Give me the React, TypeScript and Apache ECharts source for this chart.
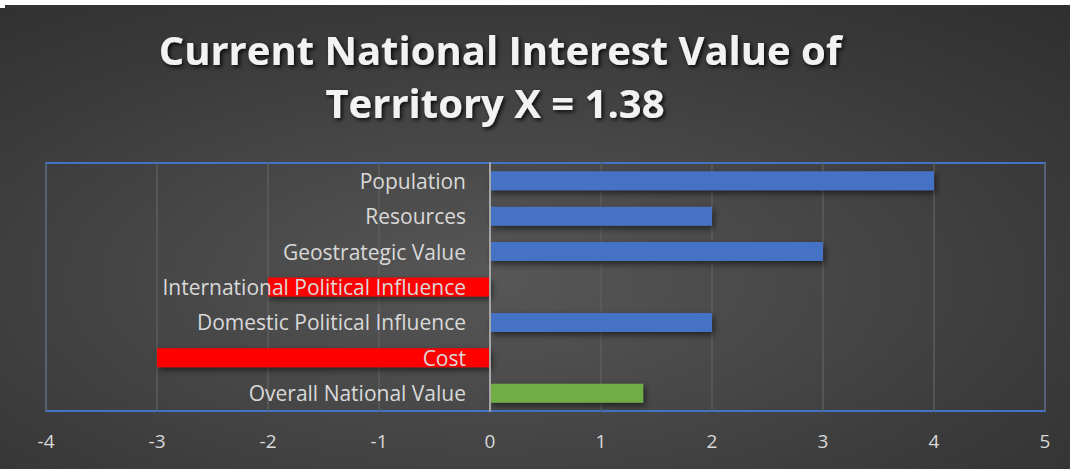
import React, { useEffect, useRef } from "react";
import * as echarts from "echarts";

const titleLines = ["Current National Interest Value of", "Territory X = 1.38"];
const categories = [
  "Population",
  "Resources",
  "Geostrategic Value",
  "International Political Influence",
  "Domestic Political Influence",
  "Cost",
  "Overall National Value",
];
const values = [4, 2, 3, -2, 2, -3, 1.38];
const overallCategory = "Overall National Value";
const xTicks = [-4, -3, -2, -1, 0, 1, 2, 3, 4, 5];

export default function App() {
  const ref = useRef<HTMLDivElement>(null);
  useEffect(() => {
    document.body.style.margin = "0";
    const chart = echarts.init(ref.current!, undefined, { renderer: "svg" });
    const titleStyle = {
      fill: "#f2f2f2",
      font: "bold 40px 'Open Sans'",
      textAlign: "center",
      textVerticalAlign: "middle",
      textShadowColor: "rgba(0,0,0,0.85)",
      textShadowBlur: 4,
      textShadowOffsetX: 2,
      textShadowOffsetY: 2,
    };
    chart.setOption({
      animation: false,
      backgroundColor: {
        type: "radial",
        x: 0.46,
        y: 0.6,
        r: 1.1,
        colorStops: [
          { offset: 0, color: "#575757" },
          { offset: 0.5, color: "#3a3a3a" },
          { offset: 1, color: "#222222" },
        ],
      },
      graphic: [
        { type: "rect", shape: { x: 0, y: 0, width: 1070, height: 5 }, style: { fill: "#ffffff" }, z: 100 },
        { type: "rect", shape: { x: 0, y: 0, width: 5, height: 8 }, style: { fill: "#ffffff" }, z: 100 },
        { type: "text", x: 500, y: 49, style: { ...titleStyle, text: titleLines[0] }, z: 100 },
        { type: "text", x: 495, y: 102, style: { ...titleStyle, text: titleLines[1] }, z: 100 },
      ],
      grid: {
        left: 46,
        right: 25,
        top: 163,
        bottom: 58,
        show: true,
        borderColor: "#4472C4",
        borderWidth: 2,
        backgroundColor: "transparent",
        containLabel: false,
        outerBoundsMode: "none",
      },
      xAxis: {
        type: "value",
        min: xTicks[0],
        max: xTicks[xTicks.length - 1],
        interval: 1,
        axisLine: { show: false },
        axisTick: { show: false },
        axisLabel: {
          color: "#d9d9d9",
          fontSize: 19,
          fontFamily: "'Open Sans'",
          margin: 20,
        },
        splitLine: { show: true, lineStyle: { color: "#5c5c5c", width: 1.5 } },
      },
      yAxis: {
        type: "category",
        data: categories,
        inverse: true,
        z: 5,
        axisLine: { show: true, onZero: true, lineStyle: { color: "#a6a6a6", width: 2 } },
        axisTick: { show: false },
        axisLabel: {
          color: "#d9d9d9",
          fontSize: 21,
          fontFamily: "'Open Sans'",
          margin: -420,
          align: "right",
        },
        splitLine: { show: false },
      },
      series: [
        {
          type: "bar",
          data: values,
          barWidth: 19,
          z: 2,
          itemStyle: {
            color: (p: any) =>
              categories[p.dataIndex] === overallCategory
                ? "#70AD47"
                : p.value < 0
                ? "#FF0000"
                : "#4472C4",
            shadowColor: "rgba(0,0,0,0.55)",
            shadowBlur: 6,
            shadowOffsetX: 2,
            shadowOffsetY: 3,
          },
        },
      ],
    });
    return () => chart.dispose();
  }, []);
  return <div ref={ref} style={{ width: 1070, height: 469 }} />;
}
